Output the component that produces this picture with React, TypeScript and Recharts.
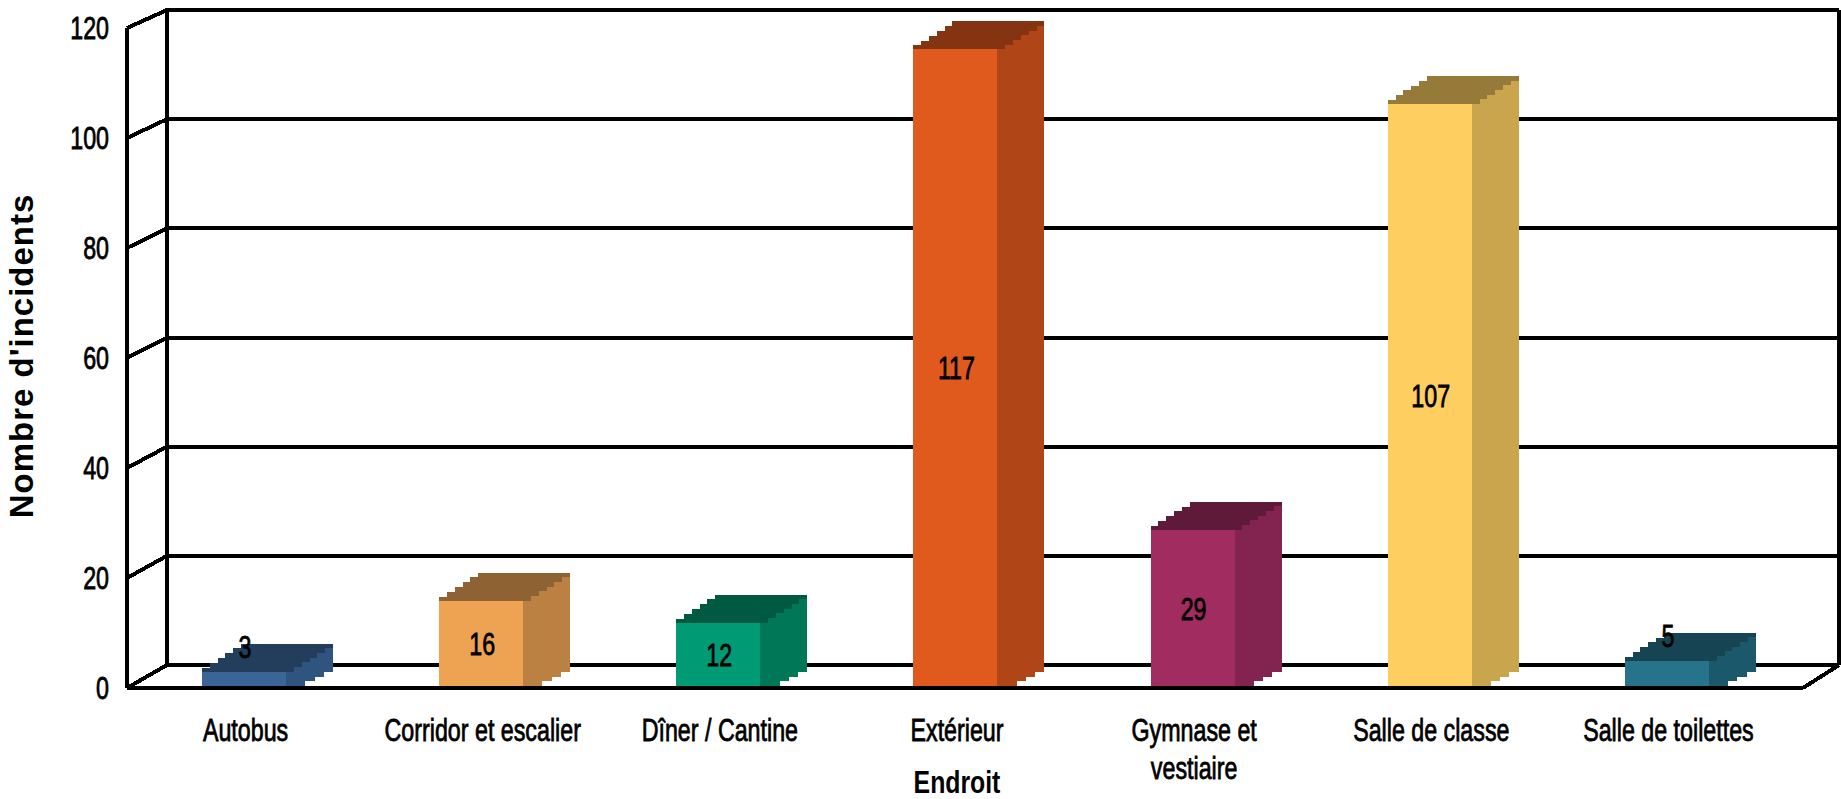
import { Bar, BarChart, CartesianGrid, LabelList, XAxis, YAxis } from "recharts";

const LOCATIONS = [
  "Autobus",
  "Corridor et escalier",
  "Dîner / Cantine",
  "Extérieur",
  "Gymnase et vestiaire",
  "Salle de classe",
  "Salle de toilettes",
];
const INCIDENTS = [3, 16, 12, 117, 29, 107, 5];
const Y_TICKS = [0, 20, 40, 60, 80, 100, 120];

const FRONT_COLORS = ["#3a6596", "#eea353", "#009a74", "#e05a1e", "#a02c60", "#ffce60", "#26738b"];
const SIDE_COLORS = ["#2f5480", "#ba8143", "#007858", "#b04617", "#832350", "#c9a54d", "#1c586b"];
const TOP_COLORS = ["#233d5d", "#8f6233", "#005a42", "#853412", "#5e1a38", "#967a3a", "#164452"];

const data = LOCATIONS.map((name, i) => ({ name, value: INCIDENTS[i] }));

const FONT = "'Liberation Sans', Arial, sans-serif";
const PLOT_TOP = 33;
const PLOT_BOTTOM = 688;
const WALL_DX = 40;
const WALL_RIGHT_DX = 36;
const BAR_SHIFT = -2;

// the back wall sits behind and a little above the front axis
const backY = (y: number) => 665 - (PLOT_BOTTOM - y);
// axis ticks run a touch taller than the bars in the source
const axisY = (y: number) => y - (5 * (PLOT_BOTTOM - y)) / (PLOT_BOTTOM - PLOT_TOP);

// aliased stair edge between two corners, as in the low-res source
function stairs(x0: number, y0: number, x1: number, y1: number, n: number) {
  const pts: string[] = [];
  for (let i = 0; i < n; i++) {
    const xa = x0 + ((x1 - x0) * (i + 1)) / n;
    pts.push(`${xa},${y0 + ((y1 - y0) * i) / n}`);
    pts.push(`${xa},${y0 + ((y1 - y0) * (i + 1)) / n}`);
  }
  return pts;
}

function WideText({ x, y, children, anchor = "middle", sx = 0.75, size = 31, bold = false }: any) {
  return (
    <text
      transform={`translate(${x} ${y}) scale(${sx} 1)`}
      textAnchor={anchor}
      dominantBaseline="central"
      fontFamily={FONT}
      fontSize={size}
      fontWeight={bold ? "bold" : "normal"}
      fill="#000"
      stroke="#000"
      strokeWidth={bold ? 0 : 0.8}
    >
      {children}
    </text>
  );
}

function GridLine({ x1, x2, y1 }: any) {
  const yb = backY(y1);
  const common = { stroke: "#000", strokeWidth: 4, shapeRendering: "crispEdges" };
  return (
    <g>
      <line x1={x1} y1={axisY(y1)} x2={x1 + WALL_DX} y2={yb} {...common} />
      <line x1={x1 + WALL_DX - 2} y1={yb} x2={x2 + WALL_RIGHT_DX} y2={yb} {...common} />
      {y1 === PLOT_TOP && (
        <>
          <line x1={x1} y1={axisY(y1)} x2={x1} y2={PLOT_BOTTOM} {...common} />
          <line x1={x1 + WALL_DX} y1={yb} x2={x1 + WALL_DX} y2={backY(PLOT_BOTTOM)} {...common} />
          <line x1={x2 + WALL_RIGHT_DX} y1={yb} x2={x2 + WALL_RIGHT_DX} y2={backY(PLOT_BOTTOM)} {...common} />
        </>
      )}
      {y1 === PLOT_BOTTOM && (
        <line x1={x2} y1={y1} x2={x2 + WALL_RIGHT_DX} y2={yb} {...common} />
      )}
    </g>
  );
}

function Box3D({ x: bandX, y, width, height, index }: any) {
  const x = bandX + BAR_SHIFT;
  const r = x + width;
  const b = y + height + 2;
  const topY = y - 28;
  const shoulder = stairs(r, y, r + 47, topY, 6);
  const bottomEdge = stairs(r + 47, b - 18, r + 10, b, 4);
  const backEdge = stairs(x, y - 4, x + 39, topY, 5);
  return (
    <g shapeRendering="crispEdges">
      <polygon
        points={[`${r},${y}`, ...shoulder, `${r + 47},${b - 18}`, ...bottomEdge, `${r},${b}`].join(" ")}
        fill={SIDE_COLORS[index]}
      />
      <polygon
        points={[`${x},${y}`, `${x},${y - 4}`, ...backEdge, `${r + 47},${topY}`, ...[...shoulder].reverse(), `${r},${y}`].join(" ")}
        fill={TOP_COLORS[index]}
      />
      <rect x={x} y={y} width={width} height={b - y} fill={FRONT_COLORS[index]} />
    </g>
  );
}

function ValueLabel({ x, y, width, height, value }: any) {
  const cy = height < 30 ? y - 24 : y + height / 2;
  return <WideText x={x + BAR_SHIFT + width / 2 + 1} y={cy}>{value}</WideText>;
}

function XTick({ x, y, payload }: any) {
  const label = payload.value;
  // the source wraps only this long label
  if (label === "Gymnase et vestiaire") {
    return (
      <g>
        <WideText x={x} y={y + 36}>Gymnase et</WideText>
        <WideText x={x} y={y + 74}>vestiaire</WideText>
      </g>
    );
  }
  return <WideText x={x} y={y + 36}>{label}</WideText>;
}

function YTick({ y, payload }: any) {
  return <WideText x={109} y={axisY(y)} anchor="end">{payload.value}</WideText>;
}

export default function App() {
  return (
    <div style={{ position: "absolute", left: 0, top: 0, width: 1841, height: 799 }}>
      <BarChart
        width={1841}
        height={799}
        data={data}
        barSize={84}
        margin={{ top: PLOT_TOP, right: 38, bottom: 51, left: 27 }}
      >
        <CartesianGrid vertical={false} horizontal={(p: any) => <GridLine key={p.key} {...p} />} />
        <XAxis
          dataKey="name"
          height={60}
          interval={0}
          padding={{ left: 0, right: 16 }}
          axisLine={{ stroke: "#000", strokeWidth: 4 }}
          tickLine={false}
          tickMargin={0}
          tick={<XTick />}
          label={{
            content: () => <WideText x={957} y={783} sx={0.8} bold>Endroit</WideText>,
          }}
        />
        <YAxis
          width={100}
          domain={[0, 120]}
          ticks={Y_TICKS}
          interval={0}
          axisLine={false}
          tickLine={false}
          tick={<YTick />}
          label={{
            content: () => (
              <text
                transform="translate(21 356) rotate(-90)"
                textAnchor="middle"
                dominantBaseline="central"
                fontFamily={FONT}
                fontWeight="bold"
                fontSize={33}
                letterSpacing={1}
                fill="#000"
              >
                Nombre d'incidents
              </text>
            ),
          }}
        />
        <Bar dataKey="value" isAnimationActive={false} shape={<Box3D />}>
          <LabelList dataKey="value" content={<ValueLabel />} />
        </Bar>
      </BarChart>
    </div>
  );
}
